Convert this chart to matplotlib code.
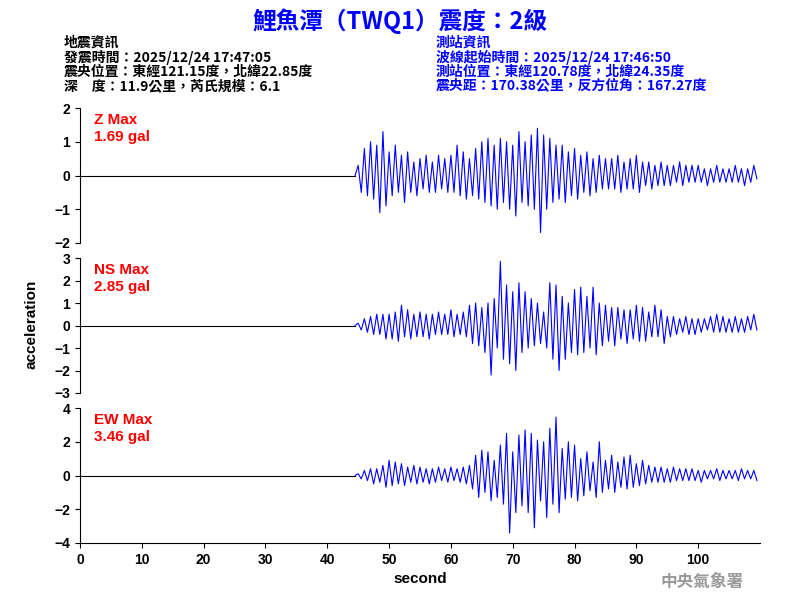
import matplotlib.pyplot as plt
import numpy as np

plt.rcParams['font.family'] = ['Noto Sans CJK TC', 'DejaVu Sans']

# peak values every 0.5 s from 45.0 s (gal)
z_vals = [0.3,-0.5,0.8,-0.6,1.0,-0.7,0.9,-1.1,1.3,-0.9,
          0.7,-0.6,0.9,-0.5,0.6,-0.8,0.7,-0.5,0.4,-0.6,
          0.5,-0.4,0.6,-0.5,0.4,-0.5,0.6,-0.4,0.5,-0.5,
          0.6,-0.5,0.9,-0.6,0.7,-0.7,0.5,-0.6,0.8,-0.7,
          1.0,-0.8,1.1,-0.9,0.9,-1.0,1.1,-0.8,1.0,-1.0,
          0.9,-1.2,1.3,-0.8,1.0,-0.9,1.2,-1.0,1.4,-1.69,
          1.2,-1.0,1.1,-0.8,0.9,-0.7,0.9,-0.8,0.7,-0.6,
          0.8,-0.7,0.6,-0.5,0.7,-0.6,0.5,-0.5,0.6,-0.4,
          0.5,-0.4,0.5,-0.4,0.6,-0.5,0.4,-0.4,0.5,-0.4,
          0.6,-0.5,0.4,-0.3,0.4,-0.4,0.3,-0.3,0.4,-0.3,
          0.3,-0.3,0.3,-0.2,0.4,-0.3,0.3,-0.2,0.3,-0.2,
          0.3,-0.2,0.2,-0.3,0.2,-0.2,0.3,-0.2,0.2,-0.2,
          0.2,-0.2,0.3,-0.2,0.2,-0.3,0.2,-0.2,0.3,-0.1]
ns_vals = [0.1,-0.2,0.3,-0.3,0.4,-0.4,0.5,-0.4,0.5,-0.6,
           0.5,-0.6,0.6,-0.7,0.9,-0.5,0.7,-0.6,0.5,-0.5,
           0.6,-0.5,0.5,-0.6,0.5,-0.4,0.6,-0.4,0.5,-0.4,
           0.7,-0.5,0.5,-0.4,0.6,-0.5,0.9,-0.8,1.0,-0.9,
           0.8,-1.2,1.0,-2.2,1.2,-1.0,2.85,-1.5,1.8,-1.7,
           1.5,-2.0,1.9,-1.2,1.5,-1.0,1.2,-0.9,1.0,-0.8,
           0.6,-1.0,1.9,-1.5,1.8,-2.0,1.3,-1.5,1.0,-1.2,
           1.6,-1.3,1.7,-1.2,1.3,-1.0,1.7,-1.3,1.0,-0.9,
           0.9,-0.7,0.8,-0.9,0.8,-0.6,0.7,-0.8,0.7,-0.6,
           0.9,-0.7,0.8,-0.7,0.6,-0.5,0.9,-0.5,0.7,-0.8,
           0.4,-0.5,0.4,-0.4,0.3,-0.3,0.4,-0.4,0.3,-0.4,
           0.3,-0.3,0.3,-0.2,0.4,-0.3,0.5,-0.3,0.4,-0.3,
           0.3,-0.3,0.4,-0.3,0.3,-0.3,0.4,-0.2,0.5,-0.2]
ew_vals = [0.1,-0.2,0.3,-0.3,0.4,-0.5,0.4,-0.4,0.6,-0.7,
           0.9,-0.6,0.8,-0.5,0.7,-0.6,0.5,-0.4,0.6,-0.5,
           0.5,-0.4,0.4,-0.5,0.4,-0.4,0.5,-0.3,0.4,-0.4,
           0.5,-0.3,0.4,-0.4,0.5,-0.5,0.6,-0.8,1.2,-1.3,
           1.5,-1.0,1.4,-1.5,0.9,-1.3,1.8,-1.7,2.5,-3.4,
           1.4,-2.2,2.4,-1.8,2.7,-2.2,2.5,-3.1,2.1,-1.5,
           2.0,-2.5,2.8,-1.7,3.46,-2.2,1.6,-1.4,2.0,-1.3,
           1.8,-1.5,1.0,-1.2,1.4,-0.9,0.8,-1.3,2.0,-1.0,
           0.9,-0.8,1.2,-1.0,0.8,-0.7,1.1,-0.8,1.2,-0.7,
           0.7,-0.6,0.9,-0.5,0.6,-0.4,0.5,-0.4,0.5,-0.4,
           0.4,-0.4,0.5,-0.3,0.4,-0.3,0.4,-0.3,0.4,-0.3,
           0.3,-0.4,0.3,-0.2,0.3,-0.2,0.4,-0.3,0.3,-0.2,
           0.3,-0.2,0.3,-0.3,0.4,-0.2,0.3,-0.2,0.3,-0.3]

labels = ['Z Max\n1.69 gal', 'NS Max\n2.85 gal', 'EW Max\n3.46 gal']
ylims = [2, 3, 4]
yticks = [[-2, -1, 0, 1, 2], [-3, -2, -1, 0, 1, 2, 3], [-4, -2, 0, 2, 4]]
latin = ['Liberation Sans', 'DejaVu Sans']

fig = plt.figure(figsize=(8, 6), dpi=100)
fig.text(0.5, 0.965, '鯉魚潭（TWQ1）震度：2級', ha='center', va='center',
         color='#0000ff', fontsize=17, fontweight='bold')
left_txt = '地震資訊\n發震時間：2025/12/24 17:47:05\n震央位置：東經121.15度，北緯22.85度\n深　度：11.9公里，芮氏規模：6.1'
right_txt = '測站資訊\n波線起始時間：2025/12/24 17:46:50\n測站位置：東經120.78度，北緯24.35度\n震央距：170.38公里，反方位角：167.27度'
fig.text(0.08, 0.94, left_txt, ha='left', va='top', fontsize=10, linespacing=1.0, fontweight='bold')
fig.text(0.545, 0.94, right_txt, ha='left', va='top', fontsize=10, linespacing=1.0,
         color='#0000ff', fontweight='bold')
fig.text(0.93, 0.03, '中央氣象署', ha='right', va='center', fontsize=12, color='#999999', fontweight='bold')
fig.text(0.04, 0.46, 'acceleration', rotation=90, ha='center', va='center', fontsize=11,
         family=latin, fontweight='bold')

bottoms = [0.595, 0.345, 0.095]
for i, vals in enumerate([z_vals, ns_vals, ew_vals]):
    ax = fig.add_axes([0.1, bottoms[i], 0.85, 0.225])
    t = np.concatenate([[0, 44.5], 45 + 0.5 * np.arange(len(vals))])
    y = np.concatenate([[0, 0], vals])
    ax.plot(t[:2], y[:2], color='black', lw=0.8)
    ax.plot(t[1:], y[1:], color='#0000ff', lw=0.8)
    ax.set_xlim(0, 110)
    ax.set_ylim(-ylims[i], ylims[i])
    ax.set_yticks(yticks[i])
    for s in ['top', 'right']:
        ax.spines[s].set_visible(False)
    ax.text(0.02, 0.96, labels[i], transform=ax.transAxes, color='red',
            fontsize=11, va='top', ha='left', family=latin, fontweight='bold')
    ax.tick_params(labelsize=10)
    for lab in ax.get_yticklabels() + ax.get_xticklabels():
        lab.set_family(latin)
        lab.set_fontweight('bold')
    if i < 2:
        ax.spines['bottom'].set_visible(False)
        ax.set_xticks([])
    else:
        ax.set_xticks(range(0, 101, 10))
        for lab in ax.get_xticklabels():
            lab.set_family(latin)
            lab.set_fontweight('bold')
        ax.set_xlabel('second', fontsize=11, family=latin, fontweight='bold')

fig.savefig('out.png', dpi=100)
